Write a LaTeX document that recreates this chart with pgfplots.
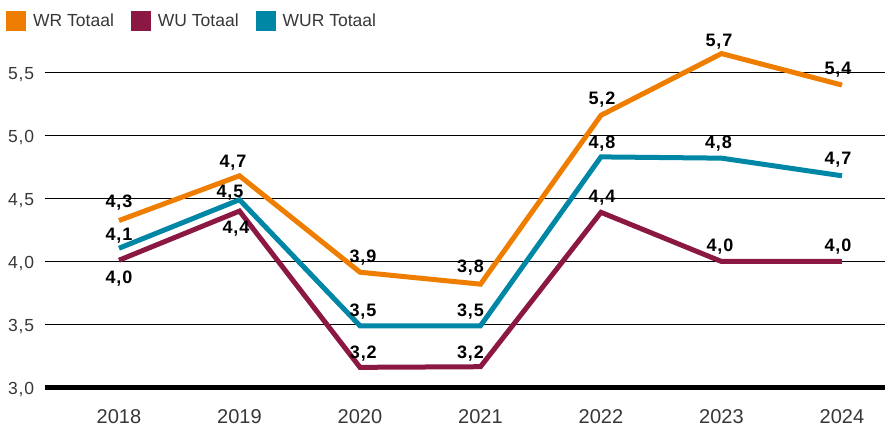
\documentclass[border=0pt]{standalone}
\usepackage{fontspec}
\setmainfont{Liberation Sans}
\usepackage{pgfplots}
\usepackage{pgfplotstable}
\pgfplotsset{compat=1.18}
\definecolor{wr}{RGB}{239,125,0}
\definecolor{wu}{RGB}{139,24,66}
\definecolor{wur}{RGB}{0,135,166}
\definecolor{tickgray}{RGB}{55,55,55}

\pgfplotstableread{
x y lab dx dy
0 4.325 4.3 0 12.7
1 4.68 4.7 -6.5 8.3
2 3.915 3.9 3 10
3 3.82 3.8 -10 11.7
4 5.16 5.2 1 11
5 5.65 5.7 -2.5 7.3
6 5.40 5.4 -4 11
}\wrdata

\pgfplotstableread{
x y lab dx dy
0 4.01 4.0 0 -23.3
1 4.40 4.4 -3.5 -22.3
2 3.16 3.2 3.3 8.4
3 3.165 3.2 -10 8.4
4 4.39 4.4 1 10.3
5 4.0 4.0 -1.5 10
6 4.0 4.0 -4 10
}\wudata

\pgfplotstableread{
x y lab dx dy
0 4.105 4.1 0 7.7
1 4.49 4.5 -9.5 2.3
2 3.49 3.5 3 9
3 3.49 3.5 -10 9
4 4.83 4.8 1 8.4
5 4.82 4.8 -3 9.6
6 4.68 4.7 -4 11.3
}\wurdata

\pgfplotsset{
  lbl/.style={
    line width=5pt,
    nodes near coords,
    point meta=explicit,
    visualization depends on={\thisrow{dx} \as \dx},
    visualization depends on={\thisrow{dy} \as \dy},
    nodes near coords style={
      anchor=base, inner sep=0pt, text=black,
      xshift=\dx pt, yshift=\dy pt,
      font=\bfseries\fontsize{18}{21}\selectfont,
      /pgf/number format/.cd, fixed, fixed zerofill, precision=1,
      set decimal separator={\kern0.8pt,\kern0.8pt}, assume math mode=true
    },
  }
}

\begin{document}
\begin{tikzpicture}
\begin{axis}[
  scale only axis, width=840pt, height=387.5pt,
  xmin=-0.614, xmax=6.357, ymin=3, ymax=6.075,
  axis line style={draw=none}, major tick length=0pt,
  xtick={0,...,6}, xticklabels={2018,2019,2020,2021,2022,2023,2024},
  xticklabel style={anchor=base, yshift=-36pt, inner sep=0pt,
    font=\fontsize{20}{24}\selectfont, text=tickgray},
  ytick={3.5,4,4.5,5,5.5}, extra y ticks={3},
  ymajorgrids, major grid style={black, line width=1pt},
  extra y tick style={major grid style={black, line width=5pt}},
  yticklabel style={anchor=base east, yshift=-7pt, xshift=-10.7pt, inner sep=0pt,
    font=\fontsize{17.5}{21}\selectfont, text=tickgray,
    /pgf/number format/.cd, fixed, fixed zerofill, precision=1,
    set decimal separator={\kern0.8pt,\kern0.8pt}, assume math mode=true},
  clip=false,
  legend columns=-1,
  legend image code/.code={\fill[#1] (0pt,-7.5pt) rectangle (15pt,7.5pt);},
  legend style={at={(0,1)}, anchor=north west, xshift=-39pt, yshift=-11pt,
    draw=none, fill=none, inner sep=0pt,
    font=\fontsize{17.5}{21}\selectfont, text=tickgray,
    nodes={inner sep=0pt}, cells={anchor=west},
    /tikz/every odd column/.append style={column sep=7pt},
    /tikz/every even column/.append style={column sep=17pt}},
]
\addplot[wr, lbl] table[x=x, y=y, meta=lab] {\wrdata};
\addlegendentry{WR Totaal}
\addplot[wu, lbl] table[x=x, y=y, meta=lab] {\wudata};
\addlegendentry{WU Totaal}
\addplot[wur, lbl] table[x=x, y=y, meta=lab] {\wurdata};
\addlegendentry{WUR Totaal}
\end{axis}
\pgfresetboundingbox
\path ([xshift=-45pt,yshift=-41.5pt]current axis.south west) rectangle (current axis.north east);
\end{tikzpicture}
\end{document}
